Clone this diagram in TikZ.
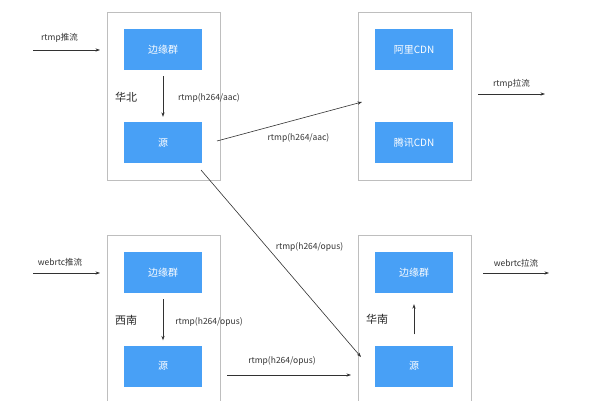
\documentclass[tikz,border=0pt]{standalone}
\usepackage{fontspec}
\setmainfont{Noto Sans CJK SC}
\usetikzlibrary{arrows.meta}
\definecolor{boxblue}{RGB}{72,160,246}
\definecolor{framegray}{RGB}{190,190,190}
\definecolor{linegray}{RGB}{50,50,50}
\tikzset{
  container/.style={draw=framegray, line width=0.7pt, minimum width=113pt, minimum height=168pt, inner sep=0pt},
  bluebox/.style={fill=boxblue, draw=none, minimum width=78pt, minimum height=41pt, inner sep=0pt, text=white, font=\fontsize{10}{12}\selectfont},
  region/.style={font=\fontsize{11}{13}\selectfont, text=black!85},
  lbl/.style={font=\fontsize{8.5}{10}\selectfont, text=black!80, inner sep=0pt},
  conn/.style={draw=linegray, line width=0.6pt, -{Stealth[length=4.5pt,width=3.2pt]}}
}
\begin{document}
\begin{tikzpicture}[x=1pt,y=-1pt]
\useasboundingbox (0,0) rectangle (600,400);
\fill[white] (0,0) rectangle (600,400);
% containers
\node[container] (hb) at (163.5,96) {};
\node[container] (cdn) at (414.5,96) {};
\node[container] (xn) at (163.5,319) {};
\node[container] (hn) at (414.5,319) {};
% blue boxes
\node[bluebox] (hbedge) at (163,49.5) {边缘群};
\node[bluebox] (hbsrc) at (163,142.5) {源};
\node[bluebox] (ali) at (414,49.5) {阿里CDN};
\node[bluebox] (tx) at (414,142.5) {腾讯CDN};
\node[bluebox] (xnedge) at (163,272.5) {边缘群};
\node[bluebox] (xnsrc) at (163,366) {源};
\node[bluebox] (hnedge) at (414,272.5) {边缘群};
\node[bluebox] (hnsrc) at (414,366) {源};
% region names
\node[region] (hbname) at (126,97) {华北};
\node[region] (xnname) at (126,320) {西南};
\node[region] (hnname) at (377,319) {华南};
% free arrow ends
\coordinate (in1a) at (33,50);
\coordinate (in1b) at (100,50);
\coordinate (out1a) at (478,94);
\coordinate (out1b) at (545,94);
\coordinate (in2a) at (33,273);
\coordinate (in2b) at (100,273);
\coordinate (out2a) at (483,273);
\coordinate (out2b) at (549,273);
\coordinate (d1a) at (217,141);
\coordinate (d1b) at (362,102);
\coordinate (d2a) at (201,170);
\coordinate (d2b) at (361,357);
\coordinate (b1a) at (227,375);
\coordinate (b1b) at (351,375);
% connectors
\draw[conn] (in1a) -- (in1b);
\draw[conn] (out1a) -- (out1b);
\draw[conn] (in2a) -- (in2b);
\draw[conn] (out2a) -- (out2b);
\draw[conn, shorten <=6pt, shorten >=5pt] (hbedge) -- (hbsrc);
\draw[conn, shorten <=6pt, shorten >=5pt] (xnedge) -- (xnsrc);
\draw[conn, shorten <=11pt, shorten >=11pt] (hnsrc) -- (hnedge);
\draw[conn] (d1a) -- (d1b);
\draw[conn] (d2a) -- (d2b);
\draw[conn] (b1a) -- (b1b);
% labels
\node[lbl] (l1) at (59.5,38) {rtmp推流};
\node[lbl] (l2) at (209,98) {rtmp(h264/aac)};
\node[lbl] (l3) at (298.5,138) {rtmp(h264/aac)};
\node[lbl] (l4) at (511.5,84) {rtmp拉流};
\node[lbl] (l5) at (60,262) {webrtc推流};
\node[lbl] (l6) at (209,322) {rtmp(h264/opus)};
\node[lbl] (l7) at (309.5,247) {rtmp(h264/opus)};
\node[lbl] (l8) at (282,361) {rtmp(h264/opus)};
\node[lbl] (l9) at (516,263) {webrtc拉流};
\end{tikzpicture}
\end{document}
